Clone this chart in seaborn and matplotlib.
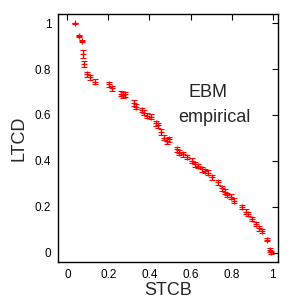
import numpy as np
import pandas as pd
import matplotlib
matplotlib.use("Agg")
import matplotlib.pyplot as plt
import seaborn as sns
from matplotlib.ticker import FormatStrFormatter

# ================= DATA =================
stcb = [0.037, 0.058, 0.072, 0.077, 0.082, 0.097, 0.110, 0.136, 0.202, 0.215,
        0.260, 0.272, 0.282, 0.326, 0.333, 0.362, 0.375, 0.386, 0.407, 0.430,
        0.440, 0.455, 0.472, 0.487, 0.494, 0.533, 0.545, 0.565, 0.581, 0.606,
        0.622, 0.638, 0.655, 0.671, 0.687, 0.703, 0.736, 0.752, 0.766, 0.780,
        0.795, 0.811, 0.850, 0.869, 0.879, 0.902, 0.920, 0.934, 0.950, 0.972,
        0.988, 0.990]
ltcd = [1.000, 0.945, 0.922, 0.865, 0.822, 0.778, 0.764, 0.745, 0.733, 0.716,
        0.693, 0.687, 0.691, 0.651, 0.636, 0.622, 0.610, 0.596, 0.593, 0.564,
        0.555, 0.526, 0.501, 0.487, 0.494, 0.451, 0.436, 0.429, 0.417, 0.400,
        0.385, 0.378, 0.364, 0.357, 0.349, 0.328, 0.307, 0.281, 0.266, 0.252,
        0.245, 0.227, 0.199, 0.180, 0.170, 0.148, 0.126, 0.107, 0.097, 0.058,
        0.012, 0.003]
ltcd_err = [0.002, 0.004, 0.004, 0.018, 0.013, 0.011, 0.012, 0.010, 0.010, 0.012,
            0.012, 0.012, 0.011, 0.013, 0.012, 0.010, 0.010, 0.011, 0.010, 0.011,
            0.011, 0.011, 0.011, 0.012, 0.010, 0.011, 0.010, 0.010, 0.010, 0.011,
            0.011, 0.010, 0.011, 0.010, 0.011, 0.010, 0.010, 0.011, 0.011, 0.010,
            0.010, 0.010, 0.008, 0.010, 0.009, 0.009, 0.010, 0.010, 0.009, 0.006,
            0.010, 0.006]
label_lines = ["EBM", "empirical"]

df = pd.DataFrame({"STCB": stcb, "LTCD": ltcd, "err": ltcd_err})

sns.set_style("white")
plt.rcParams['font.family'] = ['Liberation Sans', 'DejaVu Sans']

fig = plt.figure(figsize=(3, 3), dpi=100)
ax = fig.add_axes([0.194, 0.128, 0.733, 0.825])

ax.errorbar(df["STCB"], df["LTCD"], yerr=df["err"], fmt='none',
            ecolor='#ff0000', elinewidth=0.8, capsize=2, capthick=0.8)
sns.scatterplot(data=df, x="STCB", y="LTCD", marker='+', color='#ff0000',
                s=18, linewidth=0.9, ax=ax)

# annotation in two lines, as in the original
ax.text(0.683, 0.70, label_lines[0], fontsize=13, ha='center', va='center')
ax.text(0.715, 0.59, label_lines[1], fontsize=13, ha='center', va='center')

ax.set_xlim(-0.045, 1.027)
ax.set_ylim(-0.038, 1.039)
ax.set_xticks([0, 0.2, 0.4, 0.6, 0.8, 1])
ax.set_yticks([0, 0.2, 0.4, 0.6, 0.8, 1])
ax.xaxis.set_major_formatter(FormatStrFormatter('%g'))
ax.yaxis.set_major_formatter(FormatStrFormatter('%g'))
ax.tick_params(direction='in', length=4, width=0.8, top=True, right=True,
               labelsize=8.5, pad=5, colors='black')
for sp in ax.spines.values():
    sp.set_color('black')
    sp.set_linewidth(1.0)
ax.set_xlabel("STCB", fontsize=13, labelpad=1)
ax.set_ylabel("LTCD", fontsize=13, labelpad=5)

fig.savefig("out.png", dpi=100)
